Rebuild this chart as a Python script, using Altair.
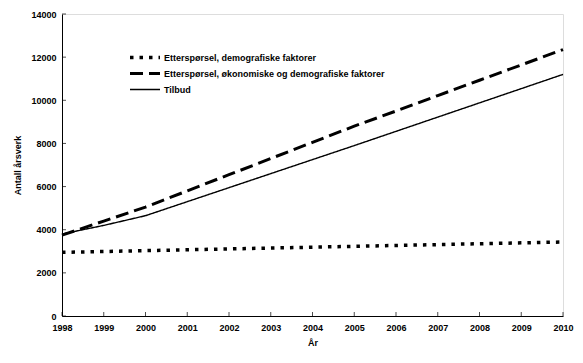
import altair as alt
import pandas as pd

years = list(range(1998, 2011))
series_names = [
    "Etterspørsel, demografiske faktorer",
    "Etterspørsel, økonomiske og demografiske faktorer",
    "Tilbud",
]
demo = [2950, 2990, 3030, 3070, 3110, 3150, 3190, 3230, 3270, 3310, 3350, 3390, 3430]
okon = [3750, 4400, 5050, 5800, 6550, 7300, 8050, 8800, 9500, 10220, 10930, 11640, 12350]
tilbud = [3800, 4200, 4650, 5300, 5950, 6600, 7250, 7900, 8560, 9220, 9880, 10540, 11200]
y_ticks = [0, 2000, 4000, 6000, 8000, 10000, 12000, 14000]

rows = []
for name, vals in zip(series_names, [demo, okon, tilbud]):
    for yr, v in zip(years, vals):
        rows.append({"year": yr, "value": v, "series": name})
df = pd.DataFrame(rows)

FONT = "Liberation Sans"
W, H = 501, 302

xscale = alt.Scale(domain=[1998, 2010], nice=False, zero=False)
yscale = alt.Scale(domain=[0, 14000], nice=False)

xaxis = alt.Axis(title="År", values=years, format="d", grid=False,
                 ticks=False, tickSize=0, labelPadding=7,
                 domainColor="black", labelColor="black",
                 labelFont=FONT, labelFontSize=9, labelFontWeight="bold",
                 titleFont=FONT, titleFontSize=9, titleFontWeight="bold",
                 titleColor="black", titlePadding=6, labelFlush=False)
yaxis = alt.Axis(title="Antall årsverk", values=y_ticks, format="d", grid=False,
                 ticks=False, tickSize=0, labelPadding=6,
                 domainColor="black", labelColor="black",
                 labelFont=FONT, labelFontSize=9, labelFontWeight="bold",
                 titleFont=FONT, titleFontSize=9, titleFontWeight="bold",
                 titleColor="black", titlePadding=8)

lines = alt.Chart(df).mark_line(color="black").encode(
    x=alt.X("year:Q", scale=xscale, axis=xaxis),
    y=alt.Y("value:Q", scale=yscale, axis=yaxis),
    strokeDash=alt.StrokeDash("series:N",
        scale=alt.Scale(domain=series_names, range=[[3.5, 6], [13, 6], [1, 0]]),
        legend=alt.Legend(title=None, orient="none", legendX=66, legendY=36,
                          symbolType="stroke", symbolSize=900, clipHeight=15,
                          symbolStrokeColor="black", labelFont=FONT,
                          labelFontSize=9, labelFontWeight="bold",
                          labelColor="black", labelOffset=2, padding=0,
                          rowPadding=1, labelLimit=0)),
    strokeWidth=alt.StrokeWidth("series:N",
        scale=alt.Scale(type="ordinal", domain=series_names, range=[3.5, 3, 1.4]),
        legend=None),
    detail="series:N",
)

ytick_df = pd.DataFrame({"year": [1998] * len(y_ticks), "value": y_ticks})
yticks = alt.Chart(ytick_df).mark_tick(orient="horizontal", size=4, color="black",
                                       thickness=1, xOffset=2).encode(
    y=alt.Y("value:Q", scale=yscale, axis=yaxis),
    x=alt.X("year:Q", scale=xscale, axis=xaxis),
)
xtick_df = pd.DataFrame({"year": years, "value": [0] * len(years)})
xticks = alt.Chart(xtick_df).mark_tick(orient="vertical", size=4, color="black",
                                       thickness=1, yOffset=-2).encode(
    x=alt.X("year:Q", scale=xscale, axis=xaxis),
    y=alt.Y("value:Q", scale=yscale, axis=yaxis),
)

chart = alt.layer(lines, yticks, xticks).properties(
    width=W, height=H,
    autosize=alt.AutoSizeParams(type="none"),
    padding={"left": 54, "top": 6, "right": 12, "bottom": 40},
).configure_view(stroke=None).configure(background="white")

chart.save("out.html", embed_options={"renderer": "svg", "actions": False})
